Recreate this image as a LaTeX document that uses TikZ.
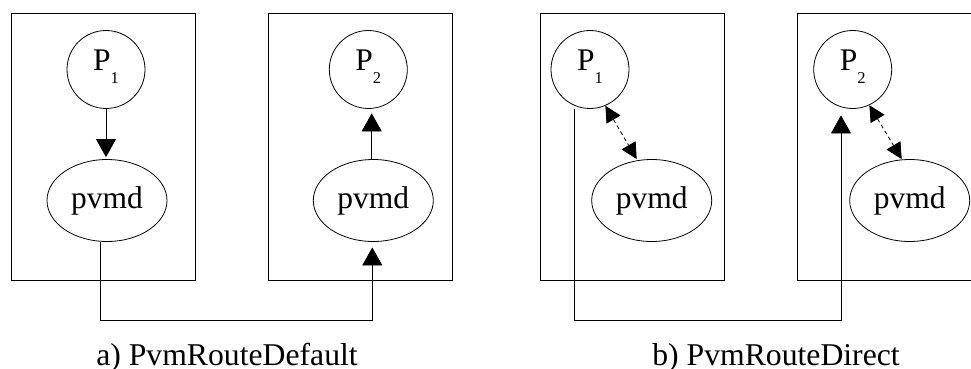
\documentclass[tikz,border=0pt]{standalone}
\usepackage{fontspec}
\setmainfont{Liberation Serif}
\usetikzlibrary{shapes.geometric,arrows.meta}
\newcommand\psub[1]{\raisebox{-13pt}{\fontsize{16.5}{16.5}\selectfont #1}}
\begin{document}
\begin{tikzpicture}[x=1pt,y=-1pt,
  box/.style={draw, line width=0.9pt, minimum width=184pt, minimum height=266.7pt, inner sep=0pt},
  proc/.style={draw, circle, line width=0.8pt, minimum size=78pt, inner sep=0pt,
    text height=20pt, text depth=18.6pt, font=\fontsize{31.5}{36}\selectfont},
  daemon/.style={draw, ellipse, line width=0.8pt, minimum width=120pt, minimum height=82pt,
    inner sep=0pt, font=\fontsize{31.5}{36}\selectfont},
  arr/.style={line width=0.8pt, -{Triangle[length=18pt,width=20pt]}},
  darr/.style={line width=0.8pt, dash pattern=on 4pt off 3pt,
    {Triangle[length=16pt,width=16pt]}-{Triangle[length=16pt,width=16pt]}},
  capt/.style={anchor=base, inner sep=0pt, font=\fontsize{31.7}{36}\selectfont}
]
\useasboundingbox (0,0) rectangle (971,369);
\clip (0,0) rectangle (971,369);

% host boxes
\node[box] (b1) at (103.15,146.65) {};
\node[box] (b2) at (360.3,146.65) {};
\node[box] (b3) at (632.15,146.65) {};
\node[box] (b4) at (889.3,146.65) {};

% tasks
\node[proc] (p1) at (106,69.5) {P\psub{1}};
\node[proc] (p2) at (368.3,69.5) {P\psub{2}};
\node[proc] (p3) at (590,69.5) {P\psub{1}};
\node[proc] (p4) at (852.7,69.5) {P\psub{2}};

% daemons
\node[daemon] (m1) at (107,200.5) {pvmd};
\node[daemon] (m2) at (373.3,200.5) {pvmd};
\node[daemon] (m3) at (651.7,200.5) {pvmd};
\node[daemon] (m4) at (909.7,200.5) {pvmd};

% a) default route
\draw[arr, shorten >=2pt] (p1.south) -- (p1.south |- m1.north);
\draw[arr, shorten >=4.5pt] ([xshift=-1.6pt]m2.north) -- ([xshift=3.4pt]p2.south);
\draw[arr, shorten >=5.5pt] ([xshift=-6.3pt]m1.south) -- ++(0,78.5) -| ([xshift=-1pt]m2.south);

% b) direct route
\draw[darr] (p3.-67) -- ([xshift=-15pt]m3.north);
\draw[darr] (p4.-65) -- ([xshift=-8pt]m4.north);
\draw[arr, shorten >=6.5pt] ([xshift=-15.7pt]p3.south) -- ++(0,211.5) -| ([xshift=-11.7pt]p4.south);

% captions
\node[capt] (ca) at (227,365) {a) PvmRouteDefault};
\node[capt] (cb) at (776,365) {b) PvmRouteDirect};
\end{tikzpicture}
\end{document}
